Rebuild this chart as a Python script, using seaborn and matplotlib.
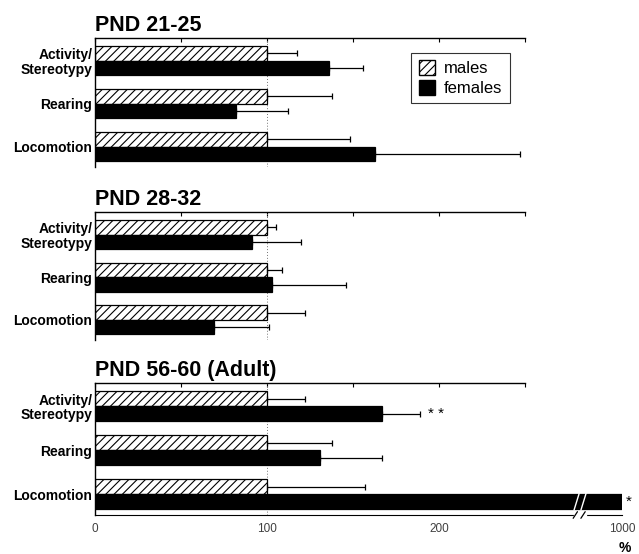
import numpy as np
import pandas as pd
import matplotlib
matplotlib.use("Agg")
import matplotlib.pyplot as plt
from matplotlib.patches import Patch
import seaborn as sns

# Values (% of male mean), error = +SEM
behaviours = ["Activity/\nStereotypy", "Rearing", "Locomotion"]
ages = ["PND 21-25", "PND 28-32", "PND 56-60 (Adult)"]
males_mean = [[100, 100, 100], [100, 100, 100], [100, 100, 100]]
males_sem = [[17.5, 38, 48], [5, 9, 22], [22, 38, 57]]
females_mean = [[136, 82, 163], [91, 103, 69], [167, 131, 1000]]
females_sem = [[20, 30, 84], [29, 43, 32], [22, 36, np.nan]]
stars = {(2, 0): "* *", (2, 2): "*"}

rows = []
for i, age in enumerate(ages):
    for j, b in enumerate(behaviours):
        rows.append((age, b, "males", males_mean[i][j], males_sem[i][j]))
        rows.append((age, b, "females", females_mean[i][j], females_sem[i][j]))
df = pd.DataFrame(rows, columns=["age", "behaviour", "sex", "value", "sem"])

sns.set_style("white")
plt.rcParams["font.family"] = ["Liberation Sans", "DejaVu Sans"]
plt.rcParams["hatch.linewidth"] = 0.8
for key in ["text.color", "axes.labelcolor", "xtick.color", "ytick.color", "axes.edgecolor"]:
    plt.rcParams[key] = "black"

# broken x axis: linear up to B, compressed afterwards
B = 290.0
K = 0.0231


def fwd(x):
    x = np.asarray(x, dtype=float)
    return np.where(x <= B, x, B + (x - B) * K)


def inv(y):
    y = np.asarray(y, dtype=float)
    return np.where(y <= B, y, B + (y - B) / K)


fig = plt.figure(figsize=(6.39, 5.54), dpi=100)
positions = [[0.1487, 0.6986, 0.8247, 0.2329],
             [0.1487, 0.3863, 0.8247, 0.2310],
             [0.1487, 0.0704, 0.8247, 0.2383]]

for i, age in enumerate(ages):
    ax = fig.add_axes(positions[i])
    sub = df[df["age"] == age]
    sns.barplot(data=sub, y="behaviour", x="value", hue="sex", orient="h",
                palette={"males": "white", "females": "black"}, edgecolor="black",
                linewidth=0.9, width=0.68, errorbar=None, legend=False, ax=ax, zorder=2)
    for p in ax.containers[0]:
        p.set_hatch("////")

    # one-sided error bars
    for k, sex in enumerate(["males", "females"]):
        part = sub[sub["sex"] == sex]
        for patch, (_, r) in zip(ax.containers[k], part.iterrows()):
            if np.isnan(r["sem"]):
                continue
            yc = patch.get_y() + patch.get_height() / 2
            ax.errorbar(r["value"], yc, xerr=[[0], [r["sem"]]], fmt="none",
                        ecolor="black", elinewidth=0.9, capsize=2.5, capthick=0.9, zorder=3)

    ax.set_xscale("function", functions=(fwd, inv))
    ax.set_xlim(0, 1000)
    ax.set_ylim(2.47, -0.53)
    ax.axvline(100, color="0.45", ls=(0, (1, 2)), lw=0.7, zorder=1)

    ax.set_title(age, loc="left", fontsize=15.5, fontweight="bold", pad=5)
    ax.set_ylabel("")
    ax.set_xlabel("")
    ax.tick_params(axis="y", length=0, pad=2, labelsize=10)
    for lab in ax.get_yticklabels():
        lab.set_fontweight("bold")
        lab.set_linespacing(1.05)

    ax.spines["right"].set_visible(False)
    ax.spines["top"].set_bounds(0, 250)
    ax.spines["left"].set_linewidth(1.0)
    ax.spines["top"].set_linewidth(1.0)
    ax.set_xticks([0, 100, 200, 1000])
    ax.set_xticks([50, 150, 250], minor=True)
    ax.tick_params(axis="x", which="both", top=True, direction="in", length=3, width=0.8)
    # the top line stops at 250, so no top tick at 1000
    ax.xaxis.get_major_ticks()[3].tick2line.set_visible(False)

    if i < 2:
        ax.spines["bottom"].set_visible(False)
        ax.tick_params(axis="x", which="both", bottom=False, labelbottom=False)
    else:
        ax.spines["bottom"].set_bounds(0, 1000)
        ax.set_xticklabels(["0", "100", "200", "1000"])
        ax.tick_params(axis="x", labelsize=8.5, labelcolor="0.25", pad=6)
        ax.text(1.005, -0.25, "%", transform=ax.transAxes, fontsize=10,
                fontweight="bold", ha="center", va="center")
        # axis break marks
        xt = ax.get_xaxis_transform()
        ax.plot([279, 285], [0, 0], transform=xt, color="white", lw=2.5, clip_on=False, zorder=5)
        for x0 in (278, 282.5):
            ax.plot([x0, x0 + 2.5], [-0.025, 0.025], transform=xt, color="black",
                    lw=0.9, clip_on=False, zorder=6)
        # break on the long female bar
        fb = ax.containers[1][2]
        yt, yb = fb.get_y(), fb.get_y() + fb.get_height()
        for x0 in (278.5, 282.5):
            ax.plot([x0, x0 + 3], [yb + 0.02, yt - 0.02], color="white", lw=1.0, zorder=4)

    for (pi, bj), s in stars.items():
        if pi != i:
            continue
        end = females_mean[pi][bj] + (0 if np.isnan(females_sem[pi][bj]) else females_sem[pi][bj])
        fb = ax.containers[1][bj]
        yc = fb.get_y() + fb.get_height() / 2
        off = 6 if bj == 0 else 3
        ax.annotate(s, (end, yc), xytext=(off, 0), textcoords="offset points",
                    fontsize=11, va="center", ha="left", annotation_clip=False)

    if i == 0:
        handles = [Patch(facecolor="white", edgecolor="black", hatch="////", label="males"),
                   Patch(facecolor="black", edgecolor="black", label="females")]
        leg = ax.legend(handles=handles, loc="upper left", bbox_to_anchor=(0.60, 0.885),
                        frameon=True, fancybox=False, fontsize=12, handlelength=1.0,
                        handleheight=1.0, handletextpad=0.5, labelspacing=0.2,
                        borderpad=0.45, borderaxespad=0)
        leg.get_frame().set_edgecolor("black")
        leg.get_frame().set_linewidth(0.8)

fig.savefig("out.png", dpi=100)
